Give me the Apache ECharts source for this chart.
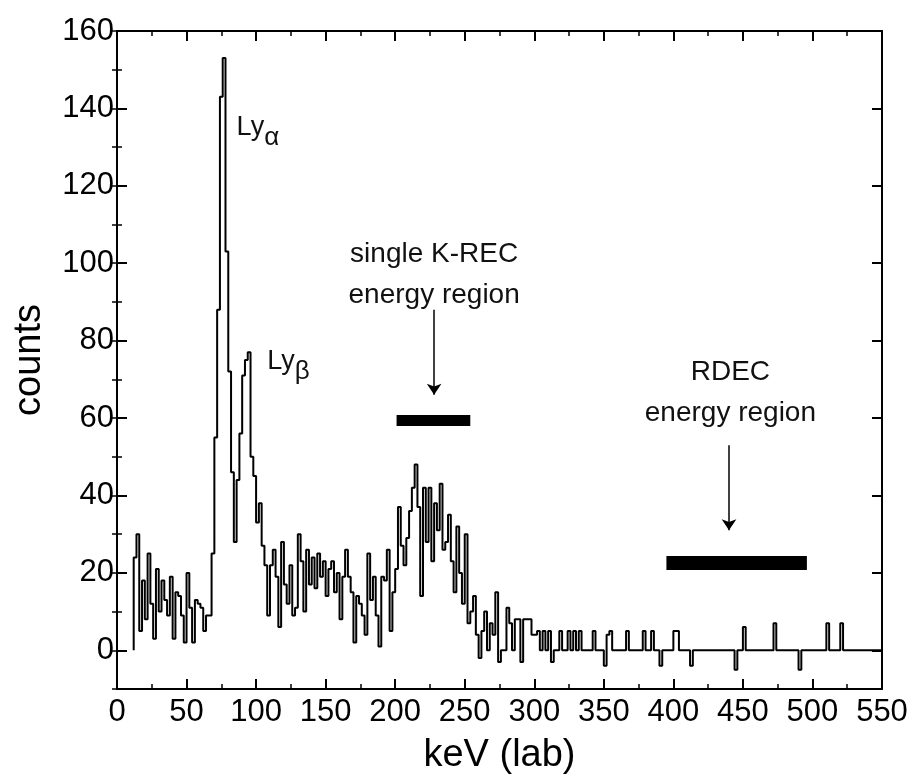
<!DOCTYPE html>
<html>
<head>
<meta charset="utf-8">
<script src="https://cdn.jsdelivr.net/npm/echarts@6/dist/echarts.min.js"></script>
<style>
html,body{margin:0;padding:0;background:#fff;}
#chart{width:916px;height:782px;}
</style>
</head>
<body>
<div id="chart"></div>
<script>
// histogram: first bin edge, bin width (keV), counts per bin
var binStart = 12;
var binWidth = 2;
var counts = [
	24,30,5,18,8,25,12,3,21,10,      // 12-30
	18,13,9,19,3,15,14,9,2,20,       // 32-50
	11,2,13,12,11,5,9,9,25,55,       // 52-70
	88,143,153,103,72,46,28,44,56,71,// 72-90
	75,77,50,45,33,38,27,22,9,22,    // 92-110
	26,19,6,28,17,12,22,9,11,30,     // 112-130
	23,10,26,17,24,16,25,19,23,14,   // 132-150
	21,23,15,20,8,19,26,19,15,2,     // 152-170
	14,12,9,4,25,13,19,9,1,19,       // 172-190
	18,26,5,15,21,37,27,22,29,36,    // 192-210
	42,48,37,14,42,28,42,23,38,31,   // 212-230
	43,26,28,35,23,15,32,20,12,30,   // 232-250
	7,10,14,4,-2,5,10,0,7,4,         // 252-270
	15,-3,0,0,11,7,0,8,8,-3,         // 272-290
	8,8,8,4,4,5,0,5,0,5,             // 292-310
	-3,0,0,5,0,0,5,0,5,0,            // 312-330
	5,0,0,0,0,5,0,0,0,-4,            // 332-350
	4,5,0,0,0,0,0,5,0,0,             // 352-370
	0,0,0,5,0,0,5,0,0,-4,            // 372-390
	0,0,0,0,5,5,0,0,0,0,             // 392-410
	-4,0,0,0,0,0,0,0,0,0,            // 412-430
	0,0,0,0,0,0,-5,0,0,6,            // 432-450
	0,0,0,0,0,0,0,0,0,0,             // 452-470
	7,0,0,0,0,0,0,0,0,-5,            // 472-490
	0,0,0,0,0,0,0,0,0,7,             // 492-510
	0,0,0,0,7,0,0,0,0,0,             // 512-530
	0,0,0,0,0,0,0,0,0                // 532-548
];
var yMajor = [0,20,40,60,80,100,120,140,160];

// energy regions (keV range, height in counts)
var kRecBar = [[201,59.5],[254,59.5]];
var rdecBar = [[395,22.5],[496,22.5]];
var kRecArrow = [[228,88],[228,66]];
var rdecArrow = [[440,53],[440,31]];

// labels: [keV, counts, text]
var labelsTop = [
	[228,97,'single K-REC\nenergy region'],
	[441,66.5,'RDEC\nenergy region']
];
var lyLabels = [
	[86,135,'{a|Ly}{s|α}'],
	[108,74.5,'{a|Ly}{s|β}']
];

// build stepped outline
var steps = [[binStart,0]];
for (var i = 0; i < counts.length; i++) {
	var x0 = binStart + i*binWidth;
	steps.push([x0,counts[i]]);
	steps.push([x0+binWidth,counts[i]]);
}
steps.push([550,0]);

var font = '"Liberation Sans", Arial, sans-serif';

function xAxisCfg(pos,showLabel){
	return {
		type:'value', position:pos, min:0, max:550, interval:50,
		axisLine:{show:true,onZero:false,lineStyle:{color:'#000',width:2}},
		axisTick:{show:true,inside:true,length:10,lineStyle:{color:'#000',width:2}},
		minorTick:{show:true,splitNumber:2,length:5,lineStyle:{color:'#000',width:1.5}},
		axisLabel:{show:showLabel,color:'#000',fontSize:31,fontFamily:font,margin:8},
		splitLine:{show:false},
		name:showLabel?'keV (lab)':'',
		nameLocation:'middle', nameGap:48,
		nameTextStyle:{color:'#000',fontSize:38,fontFamily:font}
	};
}
function yMajorCfg(pos,showLabel){
	return {
		type:'value', position:pos, min:-10, max:160, interval:10,
		axisLine:{show:true,onZero:false,lineStyle:{color:'#000',width:2}},
		axisTick:{show:true,inside:true,length:10,customValues:yMajor,lineStyle:{color:'#000',width:2}},
		axisLabel:{show:showLabel,customValues:yMajor,color:'#000',fontSize:31,fontFamily:font,margin:3},
		splitLine:{show:false},
		name:showLabel?'counts':'',
		nameLocation:'middle', nameGap:68, nameRotate:90,
		nameTextStyle:{color:'#000',fontSize:38,fontFamily:font}
	};
}
function yMinorCfg(pos){
	return {
		type:'value', position:pos, min:-10, max:160, interval:10,
		axisLine:{show:false},
		axisTick:{show:true,inside:true,length:5,lineStyle:{color:'#000',width:1.5}},
		axisLabel:{show:false},
		splitLine:{show:false}
	};
}

var myChart = echarts.init(document.getElementById('chart'));
var option = {
	backgroundColor:'#fff',
	animation:false,
	grid:{left:117,right:34,top:31,bottom:93},
	xAxis:[xAxisCfg('bottom',true), xAxisCfg('top',false)],
	yAxis:[yMajorCfg('left',true), yMinorCfg('left'), yMajorCfg('right',false), yMinorCfg('right')],
	series:[
		{
			type:'line', data:steps, symbol:'none',
			lineStyle:{color:'#000',width:2},
			z:3
		},
		{
			type:'lines', coordinateSystem:'cartesian2d', symbol:'none',
			lineStyle:{color:'#000',width:11,opacity:1},
			data:[{coords:kRecBar}]
		},
		{
			type:'lines', coordinateSystem:'cartesian2d', symbol:'none',
			lineStyle:{color:'#000',width:14,opacity:1},
			data:[{coords:rdecBar}]
		},
		{
			type:'lines', coordinateSystem:'cartesian2d',
			symbol:['none','arrow'], symbolSize:11,
			lineStyle:{color:'#000',width:1.5,opacity:1},
			data:[{coords:kRecArrow},{coords:rdecArrow}]
		},
		{
			type:'scatter', symbolSize:0, silent:true,
			itemStyle:{opacity:1},
			data:labelsTop.map(function(d){return {value:[d[0],d[1]],label:{formatter:d[2]}};}),
			label:{show:true,position:'inside',color:'#111',opacity:1,fontSize:28,fontFamily:font,lineHeight:41,align:'center',verticalAlign:'middle'}
		},
		{
			type:'scatter', symbolSize:0, silent:true,
			itemStyle:{opacity:1},
			data:lyLabels.map(function(d){return {value:[d[0],d[1]],label:{formatter:d[2]}};}),
			label:{
				show:true,position:'inside',align:'left',verticalAlign:'middle',opacity:1,
				rich:{
					a:{color:'#111',fontSize:27,fontFamily:font},
					s:{color:'#111',fontSize:26,fontFamily:font,padding:[20,0,0,0]}
				}
			}
		}
	]
};
myChart.setOption(option);
</script>
</body>
</html>
